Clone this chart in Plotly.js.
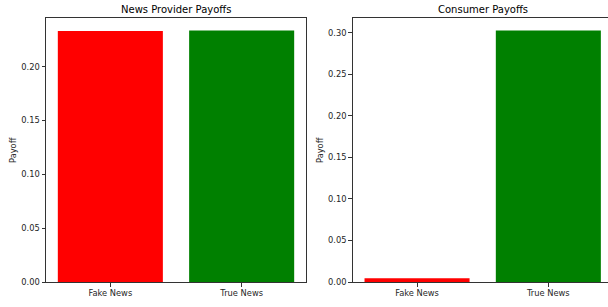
<!DOCTYPE html>
<html><head><meta charset="utf-8">
<script src="https://cdn.plot.ly/plotly-3.0.1.min.js"></script>
<style>html,body{margin:0;padding:0;background:#fff}#c{width:608px;height:307px}</style>
</head><body><div id="c"></div>
<script>
const categories = ["Fake News", "True News"];
const providerPayoffs = [0.2333, 0.2336];
const consumerPayoffs = [0.0045, 0.3028];
const barColors = ["#ff0000", "#008000"];
const titles = ["News Provider Payoffs", "Consumer Payoffs"];
const yLabel = "Payoff";

const W = 608, H = 307;
const font = {family: "DejaVu Sans", size: 8.3, color: "#262626"};
const xs = [0, 1];

const traces = [
  {type: "bar", x: xs, y: providerPayoffs, marker: {color: barColors, line: {width: 0}}, width: 0.8, xaxis: "x", yaxis: "y", hoverinfo: "none"},
  {type: "bar", x: xs, y: consumerPayoffs, marker: {color: barColors, line: {width: 0}}, width: 0.8, xaxis: "x2", yaxis: "y2", hoverinfo: "none"}
];

const axCommon = {showgrid: false, zeroline: false, showline: true, linecolor: "#333", linewidth: 1,
  ticks: "outside", ticklen: 3.5, tickwidth: 1, tickcolor: "#333", tickfont: font};

const pMax = Math.max(...providerPayoffs) * 1.05;
const cMax = Math.max(...consumerPayoffs) * 1.05;
const tfont = {family: "DejaVu Sans", size: 10, color: "#000"};

const layout = {
  width: W, height: H, margin: {l: 0, r: 0, t: 0, b: 0},
  paper_bgcolor: "#fff", plot_bgcolor: "#fff", showlegend: false,
  xaxis: Object.assign({}, axCommon, {domain: [46/W, 306/W], range: [-0.49, 1.49], mirror: true,
    tickvals: xs, ticktext: categories, anchor: "y"}),
  yaxis: Object.assign({}, axCommon, {domain: [1 - 282/H, 1 - 18/H], range: [0, pMax], mirror: true,
    dtick: 0.05, tick0: 0, tickformat: ".2f", anchor: "x"}),
  xaxis2: Object.assign({}, axCommon, {domain: [352.7/W, 1], range: [-0.49, -0.49 + (608 - 352.7)/131.3], mirror: true,
    tickvals: xs, ticktext: categories, anchor: "y2"}),
  yaxis2: Object.assign({}, axCommon, {domain: [1 - 282/H, 1 - 18/H], range: [0, cMax], mirror: false,
    dtick: 0.05, tick0: 0, tickformat: ".2f", anchor: "x2"}),
  annotations: [
    {text: titles[0], xref: "paper", yref: "paper", x: 176/W, y: 1 - 9.5/H, showarrow: false,
     font: tfont, xanchor: "center", yanchor: "middle"},
    {text: titles[1], xref: "paper", yref: "paper", x: 482.7/W, y: 1 - 9.5/H, showarrow: false,
     font: tfont, xanchor: "center", yanchor: "middle"},
    {text: yLabel, xref: "paper", yref: "paper", x: 13/W, y: 1 - 150/H, showarrow: false, textangle: -90,
     font: font, xanchor: "center", yanchor: "middle"},
    {text: yLabel, xref: "paper", yref: "paper", x: 320/W, y: 1 - 150/H, showarrow: false, textangle: -90,
     font: font, xanchor: "center", yanchor: "middle"}
  ]
};

Plotly.newPlot("c", traces, layout, {staticPlot: true, displayModeBar: false});
</script></body></html>
